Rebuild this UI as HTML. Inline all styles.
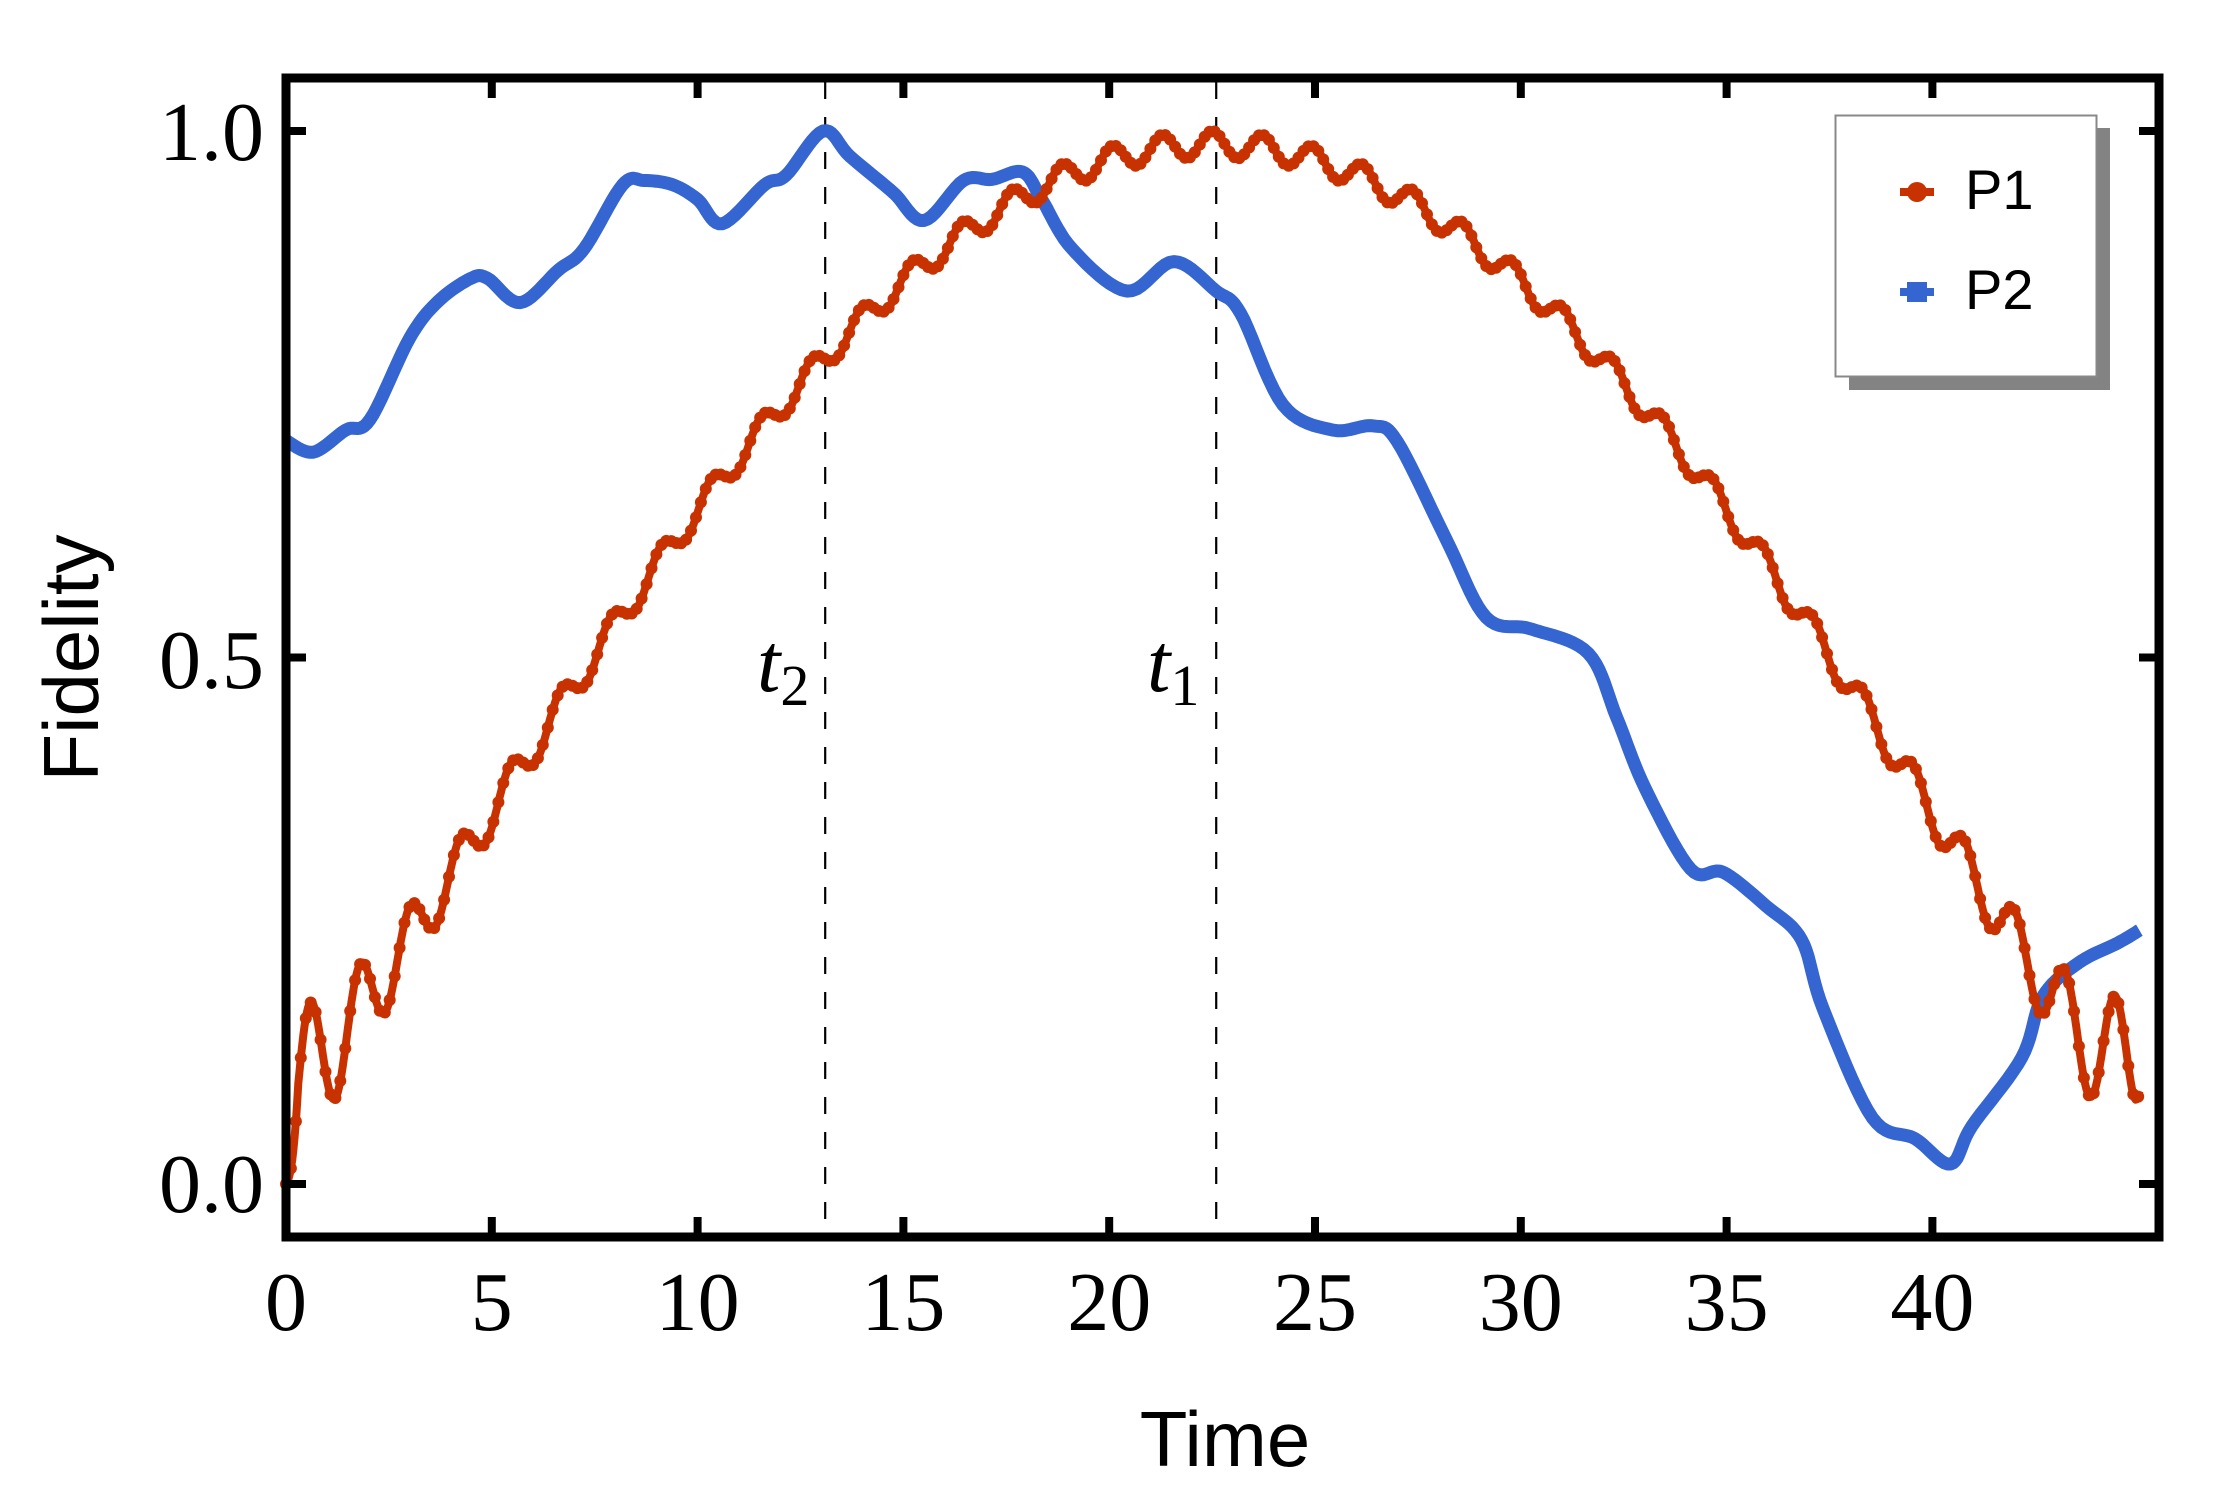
<!DOCTYPE html>
<html><head><meta charset="utf-8"><style>
html,body{margin:0;padding:0;background:#fff;}
svg{display:block;}
</style></head><body>
<svg id="s" width="2225" height="1507" viewBox="0 0 2225 1507" xmlns="http://www.w3.org/2000/svg">
<rect width="2225" height="1507" fill="#fff"/>
<g id="curves"></g>
<g id="frame"></g>
<g font-family="Liberation Serif, serif" font-size="84" fill="#000">
<text x="264" y="160" text-anchor="end">1.0</text>
<text x="264" y="688" text-anchor="end">0.5</text>
<text x="264" y="1212" text-anchor="end">0.0</text>
<g id="xl" text-anchor="middle"></g>
</g>
<g font-family="Liberation Serif, serif" font-style="italic" fill="#000">
<text x="757" y="691" font-size="84">t<tspan font-style="normal" font-size="58" dy="14">2</tspan></text>
<text x="1147" y="691" font-size="84">t<tspan font-style="normal" font-size="58" dy="14">1</tspan></text>
</g>
<text x="1225" y="1466" font-family="Liberation Sans, sans-serif" font-size="78" text-anchor="middle">Time</text>
<text transform="translate(98,658) rotate(-90)" font-family="Liberation Sans, sans-serif" font-size="78" text-anchor="middle">Fidelity</text>
<rect x="1849" y="128" width="261" height="262" fill="#838383"/>
<rect x="1835.5" y="115.5" width="261" height="261" fill="#fff" stroke="#888" stroke-width="2"/>
<line x1="1900" y1="192" x2="1934" y2="192" stroke="#c83200" stroke-width="8"/>
<circle cx="1917" cy="192" r="10" fill="#c83200"/>
<line x1="1900" y1="292" x2="1934" y2="292" stroke="#3465d0" stroke-width="8"/>
<rect x="1907" y="282" width="20" height="20" fill="#3465d0"/>
<g font-family="Liberation Sans, sans-serif" font-size="56" fill="#000">
<text x="1965" y="209">P1</text>
<text x="1965" y="309">P2</text>
</g>
</svg>
<script>
(function(){
var NS="http://www.w3.org/2000/svg";
var X0=286,PX=41.16,Y0=1184,PY=1053;
function X(t){return X0+t*PX;}function Y(v){return Y0-v*PY;}
function el(n,a,p){var e=document.createElementNS(NS,n);for(var k in a)e.setAttribute(k,a[k]);p.appendChild(e);return e;}
var cur=document.getElementById('curves'),fr=document.getElementById('frame'),xl=document.getElementById('xl');
[13.1,22.6].forEach(function(t){el('line',{x1:X(t),y1:82,x2:X(t),y2:1233,stroke:'#000','stroke-width':2.2,'stroke-dasharray':'17 18'},cur);});
var bp=[[0,0.706],[0.66,0.695],[1.45,0.716],[2.04,0.726],[3.0,0.803],[3.69,0.838],[4.49,0.86],[4.9,0.86],[5.69,0.837],[6.62,0.868],[7.24,0.888],[8.18,0.949],[8.7,0.953],[9.39,0.949],[10.0,0.935],[10.6,0.912],[11.63,0.949],[12.15,0.958],[13.05,1.0],[13.7,0.976],[14.74,0.942],[15.5,0.915],[16.46,0.953],[17.15,0.954],[17.9,0.961],[18.36,0.935],[19.1,0.888],[20.43,0.848],[21.57,0.876],[22.6,0.848],[23.19,0.827],[24.22,0.74],[25.43,0.716],[26.4,0.72],[27.0,0.705],[28.19,0.612],[29.16,0.538],[30.26,0.527],[31.64,0.504],[32.33,0.443],[33.02,0.376],[34.13,0.299],[34.92,0.296],[35.96,0.264],[36.82,0.232],[37.34,0.167],[38.54,0.063],[39.58,0.043],[40.44,0.019],[40.96,0.055],[42.17,0.12],[42.68,0.178],[43.55,0.21],[44.51,0.229],[45.03,0.241]];
var pts=[];
for(var i=0;i<bp.length-1;i++){var p0=bp[Math.max(0,i-1)],p1=bp[i],p2=bp[i+1],p3=bp[Math.min(bp.length-1,i+2)];
for(var s=0;s<10;s++){var u=s/10,u2=u*u,u3=u2*u;
var f=function(a,b,c,d){return 0.5*((2*b)+(-a+c)*u+(2*a-5*b+4*c-d)*u2+(-a+3*b-3*c+d)*u3);};
pts.push([f(p0[0],p1[0],p2[0],p3[0]),f(p0[1],p1[1],p2[1],p3[1])]);}}
pts.push(bp[bp.length-1]);
el('polyline',{points:pts.map(function(p){return X(p[0]).toFixed(1)+','+Y(p[1]).toFixed(1);}).join(' '),fill:'none',stroke:'#3465d0','stroke-width':13,'stroke-linejoin':'round'},cur);
var T=1.217,rp=[];
for(var t=0;t<=45.031;t+=0.03){
var env=0.975*Math.sin(Math.PI*t/45);
var A=0.025+0.14*Math.exp(-t/2.2)+0.14*Math.exp(-(45.2-t)/2.2);
var d=A*(1+Math.cos(2*Math.PI*(t-0.6)/T))/2;
if(t<0.3)d*=t/0.3;
d+=0.09*Math.exp(-(45.03-t)/0.35);
rp.push([t,Math.max(0,env+d)]);}
el('polyline',{points:rp.map(function(p){return X(p[0]).toFixed(1)+','+Y(p[1]).toFixed(1);}).join(' '),fill:'none',stroke:'#c83200','stroke-width':8,'stroke-linejoin':'round'},cur);
for(var j=0;j<rp.length;j+=4){el('circle',{cx:X(rp[j][0]).toFixed(1),cy:Y(rp[j][1]).toFixed(1),r:6,fill:'#c83200'},cur);}
el('rect',{x:286,y:78,width:1873,height:1159,fill:'none',stroke:'#000','stroke-width':9},fr);
for(var k=0;k<=40;k+=5){var x=X(k);
el('line',{x1:x,y1:1237,x2:x,y2:1217,stroke:'#000','stroke-width':8},fr);
el('line',{x1:x,y1:78,x2:x,y2:98,stroke:'#000','stroke-width':8},fr);
var tx=el('text',{x:x,y:1330},xl);tx.textContent=String(k);}
[0,0.5,1].forEach(function(v){var y=Y(v);
el('line',{x1:286,y1:y,x2:306,y2:y,stroke:'#000','stroke-width':8},fr);
el('line',{x1:2159,y1:y,x2:2139,y2:y,stroke:'#000','stroke-width':8},fr);});
})();
</script>
</body></html>
